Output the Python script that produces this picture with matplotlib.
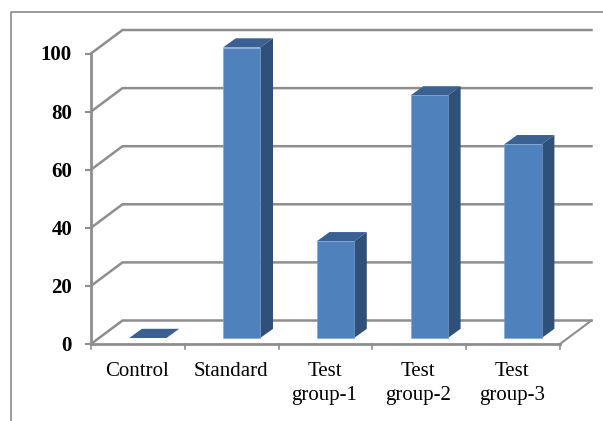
import matplotlib
matplotlib.use("Agg")
import matplotlib.pyplot as plt
from matplotlib.patches import Polygon

categories = ['Control', 'Standard', 'Test\ngroup-1', 'Test\ngroup-2', 'Test\ngroup-3']
values = [0, 100, 33.3, 83.5, 66.7]
y_ticks = [0, 20, 40, 60, 80, 100]

W, H = 603, 421
# one category = 93.8 px, one y unit = 2.905 px, origin of the plot at px (91, 344)
PX = 93.8
PY = 2.905
X0, Y0 = 91, 344

FRONT = '#4f81bd'
SIDE = '#2f5078'
TOP = '#3a6192'
EDGE = '#7ba3d6'
GRID = '#8e8e8e'

plt.rcParams['font.family'] = ['Liberation Serif', 'DejaVu Serif']

fig = plt.figure(figsize=(W / 100, H / 100), dpi=100)
ax = fig.add_axes([0, 0, 1, 1])
ax.set_xlim(-X0 / PX, (W - X0) / PX)
ax.set_ylim((Y0 - H) / PY, Y0 / PY)
ax.axis('off')

# depth of the wall and of the bars, in data units
wall_dx, wall_dy = 31.5 / PX, 23.5 / PY
bar_dx, bar_dy = 12.7 / PX, 9.2 / PY
bar_left, bar_w = 38.2 / PX, 37.3 / PX
lift = 6 / PY
n = len(categories)

# outer frame, only left and top are visible
ax.plot([(11 - X0) / PX, (11 - X0) / PX, (W - X0) / PX],
        [(Y0 - H) / PY, (Y0 - 12) / PY, (Y0 - 12) / PY], color='#8a8a8a', lw=1.2, clip_on=False)

# gridlines with the slanted part on the side wall
for t in y_ticks:
    ax.plot([0, wall_dx, n + wall_dx], [t, t + wall_dy, t + wall_dy], color=GRID, lw=1.8,
            solid_joinstyle='miter')
    ax.plot([-5 / PX, 0], [t, t], color=GRID, lw=1.5)
    ax.text(-19 / PX, t - 2 / PY, str(t), ha='right', va='center', fontsize=15, fontweight='bold',
            color='black')

# floor and axes
ax.plot([n, n + wall_dx], [0, wall_dy], color=GRID, lw=1.5)
ax.plot([0, n], [0, 0], color=GRID, lw=2)
ax.plot([0, 0], [0, 100], color=GRID, lw=2)
for i in range(n + 1):
    ax.plot([i, i], [0, -5 / PY], color=GRID, lw=1.2)

# bars
for i, v in enumerate(values):
    x0 = i + bar_left
    x1 = x0 + bar_w
    b = lift
    t = v + lift
    ax.add_patch(Polygon([(x0, t), (x1, t), (x1 + bar_dx, t + bar_dy), (x0 + bar_dx, t + bar_dy)],
                         closed=True, facecolor=TOP, edgecolor='none', zorder=3))
    if v > 0:
        ax.add_patch(Polygon([(x1, b), (x1 + bar_dx, b + bar_dy), (x1 + bar_dx, t + bar_dy), (x1, t)],
                             closed=True, facecolor=SIDE, edgecolor='none', zorder=3))
        ax.bar(x0, v, width=bar_w, bottom=b, align='edge', color=FRONT, edgecolor=EDGE, lw=0.4,
               zorder=4)

# category labels, split by hand so the two rows sit on their own baselines
for i, c in enumerate(categories):
    for row, part in enumerate(c.split('\n')):
        ax.text(i + 0.5 - 1 / PX, (-32 - 24 * row) / PY, part, ha='center', va='baseline',
                fontsize=15, color='black')

fig.savefig('out.png', dpi=100)
